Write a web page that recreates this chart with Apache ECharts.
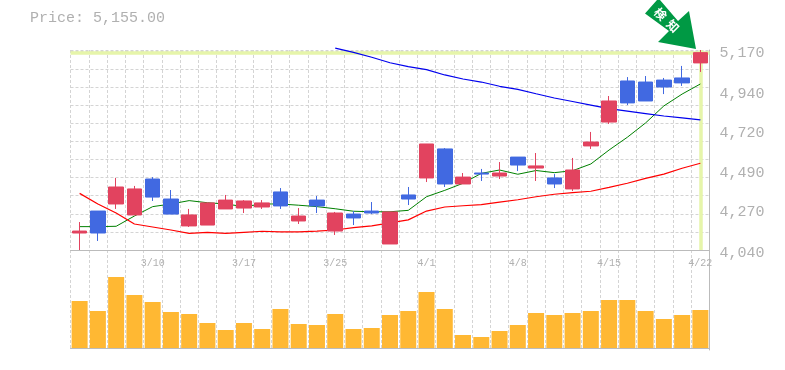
<!DOCTYPE html>
<html>
<head>
<meta charset="utf-8">
<style>html,body{margin:0;padding:0;background:#fff}#c{width:785px;height:370px}</style>
<script src="https://cdn.jsdelivr.net/npm/echarts@6/dist/echarts.min.js"></script>
</head>
<body>
<div id="c"></div>
<script>
const dates = ['3/4','3/5','3/6','3/7','3/10','3/11','3/12','3/13','3/14','3/17','3/18','3/19','3/21','3/24','3/25','3/26','3/27','3/28','3/31','4/1','4/2','4/3','4/4','4/7','4/8','4/9','4/10','4/11','4/14','4/15','4/16','4/17','4/18','4/21','4/22'];
const shownDates = ['3/10','3/17','3/25','4/1','4/8','4/15','4/22'];
const priceTicks = [4040,4270,4490,4720,4940,5170];
const lastPrice = 5155;
const opens  = [4136,4260,4300,4238,4441,4328,4176,4181,4272,4277,4283,4368,4204,4322,4147,4243,4260,4074,4351,4447,4611,4413,4475,4458,4565,4503,4447,4385,4628,4763,4995,4989,5000,5012,5097];
const closes = [4147,4136,4396,4385,4339,4243,4238,4306,4322,4317,4306,4289,4232,4289,4249,4221,4249,4255,4328,4639,4413,4452,4469,4475,4520,4515,4413,4492,4650,4882,4871,4882,4961,4984,5155];
const lows   = [4040,4091,4272,4238,4317,4243,4170,4181,4272,4249,4272,4272,4187,4249,4125,4181,4243,4074,4294,4424,4396,4413,4430,4441,4486,4430,4390,4373,4611,4752,4859,4882,4921,4967,5046];
const highs  = [4198,4260,4447,4402,4452,4379,4272,4306,4351,4322,4322,4390,4277,4345,4255,4260,4311,4255,4396,4639,4616,4475,4498,4537,4565,4588,4469,4560,4707,4910,5017,5023,5012,5080,5170];
const maShort = [4172,4172,4174,4232,4285,4300,4319,4307,4300,4285,4300,4300,4293,4285,4273,4259,4256,4256,4264,4341,4377,4417,4473,4492,4468,4489,4477,4488,4526,4605,4677,4758,4854,4921,4978];
const maMid = [4360,4300,4249,4187,4170,4153,4134,4140,4134,4140,4146,4142,4142,4147,4153,4166,4176,4193,4210,4260,4283,4290,4296,4310,4324,4341,4355,4364,4372,4394,4417,4445,4469,4502,4530];
const maLong = [null,null,null,null,null,null,null,null,null,null,null,null,null,null,5181,5157,5129,5098,5076,5059,5029,5006,4989,4965,4948,4923,4899,4879,4859,4839,4825,4811,4797,4786,4775];
const volumes = [47,37,71,53,46,36,34,25,18,25,19,39,24,23,34,19,20,33,37,56,39,13,11,17,23,35,33,35,37,48,48,37,29,33,38];

const GRAY = '#b0b0b0', AXIS = '#bbbbbb', GRID = '#d4d4d4';
const MONO = '"Liberation Mono", monospace';
const dashed = {show:true, lineStyle:{color:GRID, type:[3,2], width:1}};

const chart = echarts.init(document.getElementById('c'), null, {renderer:'canvas'});
chart.setOption({
  animation:false,
  backgroundColor:'#fff',
  title:{text:'Price: 5,155.00', left:30, top:11, padding:0, textStyle:{fontFamily:MONO, fontSize:15, fontWeight:'normal', color:GRAY}},
  grid:[
    {left:70.5, width:639, top:50, height:200},
    {left:70.5, width:639, top:250, height:100}
  ],
  xAxis:[
    {type:'category', gridIndex:0, data:dates, boundaryGap:true,
     axisLine:{show:true, lineStyle:{color:AXIS, width:1}}, axisTick:{show:false},
     splitLine:Object.assign({interval:0}, dashed),
     axisLabel:{interval:(i,v)=>shownDates.includes(v), margin:8, fontFamily:MONO, fontSize:10, color:GRAY, hideOverlap:false}},
    {type:'category', gridIndex:1, data:dates, boundaryGap:true,
     axisLine:{show:true, lineStyle:{color:AXIS, width:1}}, axisTick:{show:false}, axisLabel:{show:false},
     splitLine:Object.assign({interval:0}, dashed)}
  ],
  yAxis:[
    {type:'value', gridIndex:0, position:'right', min:4040, max:5170, scale:true,
     axisLine:{show:true, lineStyle:{color:AXIS, width:1}}, axisTick:{show:false}, splitLine:{show:false},
     axisLabel:{customValues:priceTicks, margin:10, fontFamily:MONO, fontSize:15, color:GRAY, verticalAlign:'top', lineHeight:6,
       formatter:v=>Math.round(v).toLocaleString('en-US')}},
    {type:'value', gridIndex:0, position:'left', min:0, max:11.055, interval:1,
     axisLine:{show:false}, axisTick:{show:false}, axisLabel:{show:false}, splitLine:dashed},
    {type:'value', gridIndex:1, position:'right', min:-2, max:98,
     axisLine:{show:true, lineStyle:{color:AXIS, width:1}}, axisTick:{show:false}, axisLabel:{show:false}, splitLine:{show:false}}
  ],
  series:[
    {type:'line', name:'MA short', xAxisIndex:0, yAxisIndex:0, data:maShort, showSymbol:false, z:2, clip:false,
     lineStyle:{color:'#008000', width:1}},
    {type:'line', name:'MA mid', xAxisIndex:0, yAxisIndex:0, data:maMid, showSymbol:false, z:2, clip:false,
     lineStyle:{color:'#ff0000', width:1.2}},
    {type:'line', name:'MA long', xAxisIndex:0, yAxisIndex:0, data:maLong, showSymbol:false, z:2, clip:false,
     lineStyle:{color:'#0000ee', width:1.2}},
    {type:'candlestick', name:'Price', xAxisIndex:0, yAxisIndex:0, z:3, barWidth:15, clip:false,
     data:dates.map((d,i)=>[opens[i],closes[i],lows[i],highs[i]]),
     itemStyle:{color:'#e2435f', borderColor:'#e2435f', color0:'#4169e1', borderColor0:'#4169e1', borderWidth:1},
     markLine:{silent:true, symbol:'none', z:1, label:{show:false}, animation:false,
       lineStyle:{color:'#e6f5aa', width:3.5, type:'solid'},
       data:[{yAxis:lastPrice},{xAxis:dates[dates.length-1]}]}},
    {type:'bar', name:'Volume', xAxisIndex:1, yAxisIndex:2, data:volumes, barWidth:16,
     itemStyle:{color:'#ffb833'}}
  ],
  graphic:[
    {type:'polygon', z:10, shape:{points:[[645,13.5],[657,0],[660,0],[678,21],[689,11],[696,49],[658,42],[669,31]]}, style:{fill:'#009944'}},
    {type:'text', z:11, x:660.5, y:14, rotation:-Math.PI/4, style:{text:'検', fill:'#fff', font:'bold 12px "Noto Sans CJK JP"', textAlign:'center', textVerticalAlign:'middle'}},
    {type:'text', z:11, x:673, y:26, rotation:-Math.PI/4, style:{text:'知', fill:'#fff', font:'bold 12px "Noto Sans CJK JP"', textAlign:'center', textVerticalAlign:'middle'}}
  ]
});
</script>
</body>
</html>
